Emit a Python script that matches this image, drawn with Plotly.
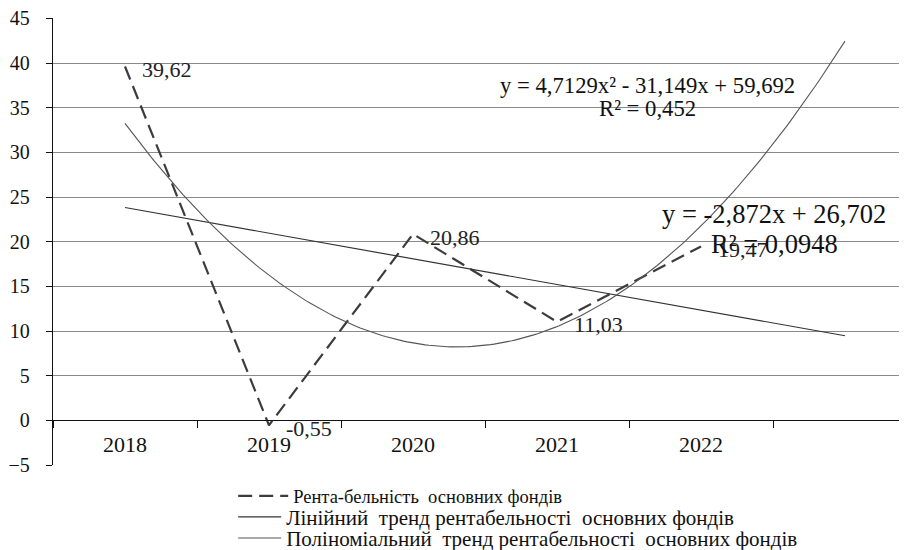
import numpy as np
import plotly.graph_objects as go

years = ["2018", "2019", "2020", "2021", "2022"]
positions = [1, 2, 3, 4, 5]
profitability = [39.62, -0.55, 20.86, 11.03, 19.47]
labels = ["39,62", "-0,55", "20,86", "11,03", "19,47"]

series_name = "Рента-бельність  основних фондів"
linear_name = "Лінійний  тренд рентабельності  основних фондів"
poly_name = "Поліноміальний  тренд рентабельності  основних фондів"

poly_eq = "y = 4,7129x² - 31,149x + 59,692"
poly_r2 = "R² = 0,452"
lin_eq = "y = -2,872x + 26,702"
lin_r2 = "R² = 0,0948"

forecast_end = 6  # trend lines forecast one period forward

FONT = "Liberation Serif"

# trend lines fitted from the data (Excel-style trendlines)
lin_coef = np.polyfit(positions, profitability, 1)
poly_coef = np.polyfit(positions, profitability, 2)
xs_lin = np.array([positions[0], forecast_end], dtype=float)
xs_poly = np.linspace(positions[0], forecast_end, 200)

fig = go.Figure()

fig.add_trace(go.Scatter(
    x=positions, y=profitability, mode="lines", name=series_name,
    line=dict(color="#3c3c3c", width=2.2, dash="14px,7px"), legend="legend",
))
fig.add_trace(go.Scatter(
    x=xs_lin, y=np.polyval(lin_coef, xs_lin), mode="lines", name=linear_name,
    line=dict(color="#333333", width=1.2), legend="legend2",
))
fig.add_trace(go.Scatter(
    x=xs_poly, y=np.polyval(poly_coef, xs_poly), mode="lines", name=poly_name,
    line=dict(color="#555555", width=1.1), legend="legend3",
))

# data labels
for xv, yv, lab in zip(positions, profitability, labels):
    fig.add_annotation(x=xv, y=yv, text=lab, showarrow=False,
                       xanchor="left", yanchor="middle", xshift=15, yshift=-3,
                       font=dict(family=FONT, size=22, color="#222"))

ann_font_small = dict(family=FONT, size=22.7, color="#111")
ann_font_big = dict(family=FONT, size=26.5, color="#111")
fig.add_annotation(x=4.63, y=37.5, text=poly_eq, showarrow=False, font=ann_font_small)
fig.add_annotation(x=4.63, y=34.9, text=poly_r2, showarrow=False, font=ann_font_small)
fig.add_annotation(x=5.51, y=23.1, text=lin_eq, showarrow=False, font=ann_font_big)
fig.add_annotation(x=5.51, y=19.8, text=lin_r2, showarrow=False, font=ann_font_big)


def leg(y, size, itemwidth):
    return dict(
        x=0.211, y=y, xanchor="left", yanchor="middle",
        font=dict(family=FONT, size=size, color="#111"),
        bgcolor="rgba(0,0,0,0)", itemwidth=itemwidth,
    )


fig.update_layout(
    width=899, height=542,
    margin=dict(l=45, r=0, t=10, b=85, autoexpand=False),
    paper_bgcolor="white", plot_bgcolor="white",
    font=dict(family=FONT, size=20, color="#111"),
    showlegend=True,
    legend=leg(-0.0700, 18.5, 50),
    legend2=leg(-0.1170, 21, 43),
    legend3=leg(-0.1640, 21, 43),
    xaxis=dict(
        range=[0.5, 0.5 + 854 / 144], automargin=False,
        anchor="free", position=0.1,
        tickmode="array", tickvals=positions, ticktext=years,
        ticks="", showgrid=False, zeroline=False,
        showline=True, linecolor="#111", linewidth=1.3,
        tickfont=dict(family=FONT, size=22, color="#111"),
        ticklabelstandoff=4,
        minor=dict(tick0=0.5, dtick=1, ticks="outside", ticklen=7,
                   tickcolor="#111", tickwidth=1.3, showgrid=False),
    ),
    yaxis=dict(
        range=[-5, 45.05], dtick=5, tick0=0, automargin=False,
        showgrid=True, gridcolor="#8a8a8a", gridwidth=1.3,
        zeroline=True, zerolinecolor="#111", zerolinewidth=1.3,
        showline=True, linecolor="#111", linewidth=1.3,
        ticks="outside", ticklen=6, tickcolor="#111",
        tickfont=dict(family=FONT, size=20, color="#111"),
        ticklabelstandoff=12, ticklabeloverflow="allow",
    ),
)

fig.write_html("out.html")
